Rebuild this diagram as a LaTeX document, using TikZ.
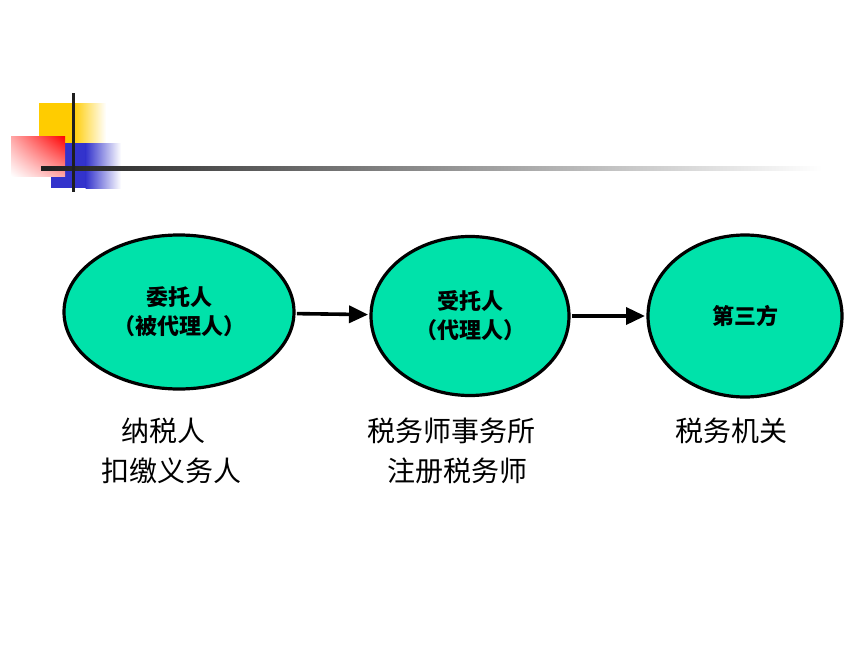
\documentclass[tikz,border=0pt]{standalone}
\usepackage{fontspec}
\newfontfamily\cjk{Noto Sans CJK SC}
\usepackage{xcolor}
\usetikzlibrary{positioning,shapes,shadings,arrows.meta}
\definecolor{tealfill}{RGB}{0,226,170}
\definecolor{barblue}{RGB}{51,51,204}
\definecolor{baryellow}{RGB}{255,204,0}

\begin{document}
\begin{tikzpicture}[x=1pt,y=-1pt,
                    main node/.style={ellipse,fill=tealfill,draw,line width=3.2pt,outer sep=3pt,inner sep=0pt,
                                      align=center,font=\cjk\bfseries\fontsize{22}{29}\selectfont},
                    link/.style={line width=3.6pt,-{Triangle[length=19pt,width=17pt]}},
                    role/.style={anchor=west,inner sep=0pt,font=\cjk\fontsize{28}{34}\selectfont}]
             \useasboundingbox (0,0) rectangle (860,645);
             % corner mark
             \fill[baryellow] (39,103) rectangle (73,143);
             \shade[left color=baryellow,right color=white] (72.5,103) rectangle (106,143);
             \fill[barblue] (51,143) rectangle (86,188);
             \shade[left color=barblue,right color=white] (85.5,143) rectangle (121,188);
             \shade[upper right=red,upper left=red!35,lower left=white,lower right=red!35] (11,136) rectangle (65,176);
             \shade[left color=black!88,right color=white] (41,166) rectangle (822,170.5);
             \fill[black!88] (71.5,93) rectangle (74.5,192);
             % parties
             \node[main node,minimum width=230pt,minimum height=154pt] (1) at (179,312) {委托人\\（被代理人）};
             \node[main node,minimum width=198pt,minimum height=159pt] (2) at (470,316) {受托人\\（代理人）};
             \node[main node,minimum width=194pt,minimum height=162pt] (3) at (745,316) {第三方};
             \path%
               (1) edge[link] (2)
               (2) edge[link] (3);
             % who they are
             \node[role] (A1) at (121,431) {纳税人};
             \node[role] (A2) at (101,471) {扣缴义务人};
             \node[role] (B1) at (367,431) {税务师事务所};
             \node[role] (B2) at (387,471) {注册税务师};
             \node[role] (C1) at (675,431) {税务机关};
           \end{tikzpicture}
\end{document}
